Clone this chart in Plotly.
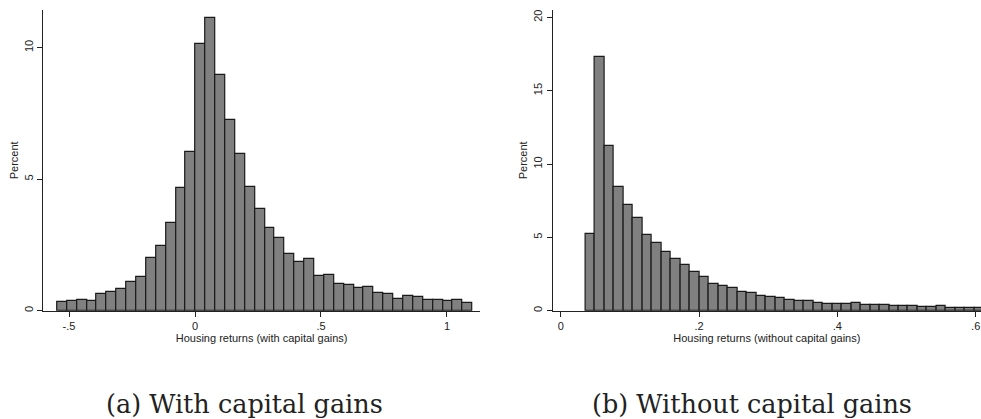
import plotly.graph_objects as go

# ---- data (percent per bin) ----
a_bin_start = -0.547
a_bin_width = 0.03924
a_percent = [0.32, 0.38, 0.40, 0.37, 0.62, 0.73, 0.81, 1.09, 1.30, 1.99,
             2.47, 3.32, 4.65, 6.05, 10.15, 11.13, 8.96, 7.25, 5.94, 4.71,
             3.85, 3.13, 2.75, 2.16, 1.86, 1.96, 1.33, 1.34, 1.00, 0.99,
             0.86, 0.90, 0.68, 0.65, 0.43, 0.56, 0.52, 0.42, 0.42, 0.38,
             0.39, 0.29]

b_bin_start = 0.0356
b_bin_width = 0.01373
b_percent = [5.20, 17.27, 11.20, 8.45, 7.23, 6.34, 5.18, 4.59, 4.02, 3.50,
             3.14, 2.61, 2.32, 1.84, 1.66, 1.52, 1.25, 1.18, 0.98, 0.93,
             0.84, 0.70, 0.64, 0.68, 0.55, 0.43, 0.48, 0.43, 0.55, 0.36,
             0.36, 0.36, 0.30, 0.32, 0.30, 0.23, 0.23, 0.30, 0.16, 0.16,
             0.16, 0.16]

a_xticks = [-0.5, 0, 0.5, 1]
a_xticklabels = ["-.5", "0", ".5", "1"]
a_yticks = [0, 5, 10]
b_xticks = [0, 0.2, 0.4, 0.6]
b_xticklabels = ["0", ".2", ".4", ".6"]
b_yticks = [0, 5, 10, 15, 20]

a_xtitle = "Housing returns (with capital gains)"
b_xtitle = "Housing returns (without capital gains)"
caption_a = "(a) With capital gains"
caption_b = "(b) Without capital gains"

a_centers = [a_bin_start + (i + 0.5) * a_bin_width for i in range(len(a_percent))]
b_centers = [b_bin_start + (i + 0.5) * b_bin_width for i in range(len(b_percent))]

W, H = 981, 419
def px_x(p):
    return p / W
def px_y(p):
    return (H - p) / H

fig = go.Figure()
bar_style = dict(marker=dict(color="#808080", line=dict(color="#1a1a1a", width=1.2)),
                 showlegend=False, hoverinfo="x+y")
fig.add_trace(go.Bar(x=a_centers, y=a_percent, width=a_bin_width, xaxis="x", yaxis="y", **bar_style))
fig.add_trace(go.Bar(x=b_centers, y=b_percent, width=b_bin_width, xaxis="x2", yaxis="y2", **bar_style))

tickfont = dict(family="Liberation Sans, Arial, sans-serif", size=11, color="#222")
axis_common = dict(showgrid=False, zeroline=False, showline=True, linecolor="#222", linewidth=1,
                   ticks="outside", ticklen=5, tickwidth=1, tickcolor="#222", tickfont=tickfont,
                   ticklabeloverflow="allow")

fig.update_layout(
    width=W, height=H, autosize=False,
    margin=dict(l=0, r=0, t=0, b=0),
    paper_bgcolor="white", plot_bgcolor="white",
    bargap=0,
    xaxis=dict(domain=[px_x(43.3), px_x(480)], range=[-0.602, 1.131],
               tickvals=a_xticks, ticktext=a_xticklabels, anchor="y",
               title=dict(text=a_xtitle, font=tickfont, standoff=1), **axis_common),
    yaxis=dict(domain=[px_y(310.7), px_y(10)], range=[0, 11.43], tickvals=a_yticks,
               tickangle=-90, anchor="x",
               title=dict(text="Percent", font=tickfont, standoff=2), **axis_common),
    xaxis2=dict(domain=[px_x(552.7), 1.0], range=[-0.0116, 0.6077],
                tickvals=b_xticks, ticktext=b_xticklabels, anchor="y2",
                title=dict(text=b_xtitle, font=tickfont, standoff=1), **axis_common),
    yaxis2=dict(domain=[px_y(310.7), px_y(10)], range=[0, 20.5], tickvals=b_yticks,
                tickangle=-90, anchor="x2",
                title=dict(text="Percent", font=tickfont, standoff=2), **axis_common),
)

capfont = dict(family="DejaVu Serif, serif", size=25.5, color="#222")
fig.add_annotation(text=caption_a, xref="paper", yref="paper", x=px_x(244), y=px_y(404),
                   xanchor="center", yanchor="middle", showarrow=False, font=capfont)
fig.add_annotation(text=caption_b, xref="paper", yref="paper", x=px_x(752), y=px_y(404),
                   xanchor="center", yanchor="middle", showarrow=False, font=capfont)

fig.write_html("out.html", config={"displayModeBar": False},
               post_script="document.body.style.margin='0';document.body.style.overflow='hidden';")
